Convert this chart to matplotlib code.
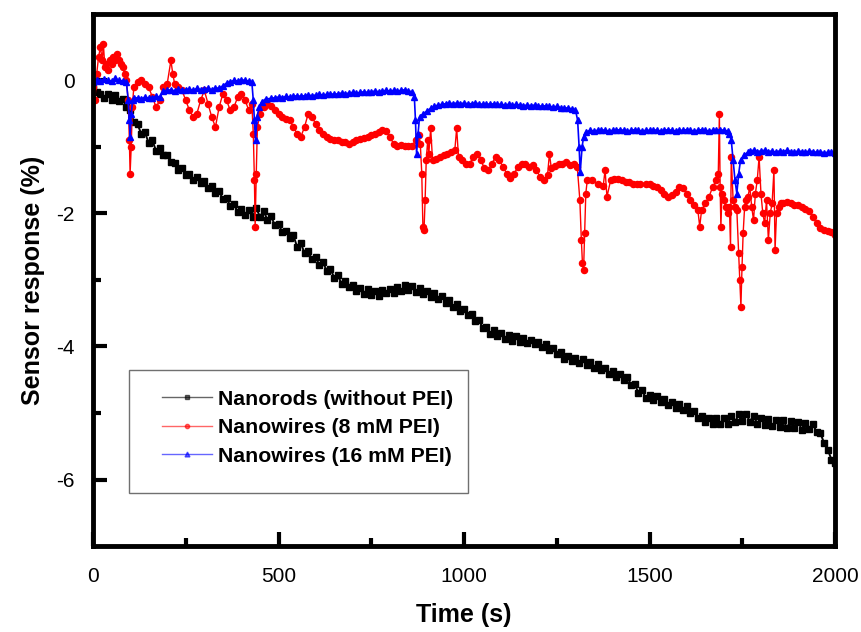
"""Sensor response vs time for nanorods / nanowires (PEI)."""

import matplotlib
matplotlib.use("Agg")
import matplotlib.pyplot as plt
from matplotlib.patches import Rectangle

plt.rcParams["font.family"] = ["Liberation Sans", "DejaVu Sans"]
plt.rcParams["axes.unicode_minus"] = False

# --- data --------------------------------------------------------------
# nanorods (without PEI), one value every 10 s from 0 to 2000 s
rod_time = list(range(0, 2001, 10))
rod_resp = [
    -0.08, -0.18, -0.20, -0.26, -0.20, -0.29, -0.22, -0.31, -0.28, -0.40,
    -0.45, -0.62, -0.66, -0.80, -0.78, -0.94, -0.90, -1.06, -1.02, -1.12,
    -1.12, -1.22, -1.24, -1.35, -1.31, -1.42, -1.40, -1.50, -1.45, -1.54,
    -1.51, -1.61, -1.58, -1.69, -1.66, -1.79, -1.77, -1.89, -1.86, -1.98,
    -1.93, -2.03, -1.95, -2.06, -1.92, -2.05, -1.96, -2.10, -2.04, -2.18,
    -2.16, -2.28, -2.26, -2.37, -2.33, -2.50, -2.44, -2.60, -2.57, -2.69,
    -2.65, -2.78, -2.73, -2.87, -2.83, -2.97, -2.93, -3.06, -3.01, -3.10,
    -3.07, -3.16, -3.12, -3.21, -3.13, -3.23, -3.16, -3.24, -3.15, -3.20,
    -3.13, -3.20, -3.11, -3.17, -3.08, -3.15, -3.09, -3.18, -3.12, -3.21,
    -3.16, -3.25, -3.19, -3.28, -3.24, -3.34, -3.30, -3.40, -3.36, -3.47,
    -3.43, -3.53, -3.51, -3.62, -3.60, -3.72, -3.70, -3.81, -3.75, -3.84,
    -3.80, -3.88, -3.82, -3.91, -3.84, -3.93, -3.87, -3.95, -3.90, -3.97,
    -3.93, -4.01, -3.97, -4.06, -4.03, -4.12, -4.09, -4.19, -4.14, -4.22,
    -4.17, -4.25, -4.19, -4.28, -4.23, -4.32, -4.27, -4.36, -4.33, -4.41,
    -4.37, -4.46, -4.41, -4.50, -4.46, -4.58, -4.57, -4.70, -4.66, -4.78,
    -4.73, -4.81, -4.75, -4.84, -4.79, -4.88, -4.83, -4.92, -4.87, -4.95,
    -4.90, -5.00, -4.97, -5.08, -5.04, -5.14, -5.08, -5.16, -5.07, -5.17,
    -5.08, -5.16, -5.05, -5.14, -5.02, -5.12, -5.01, -5.13, -5.04, -5.16,
    -5.07, -5.18, -5.09, -5.20, -5.10, -5.21, -5.11, -5.22, -5.12, -5.23,
    -5.13, -5.25, -5.15, -5.24, -5.16, -5.29, -5.30, -5.45, -5.55, -5.70,
    -5.75,
]

# nanowires (8 mM PEI)
pei8_time = [
    0, 5, 10, 15, 20, 25, 28, 32, 36, 40,
    45, 50, 55, 60, 65, 70, 75, 80, 85, 90,
    95, 98, 100, 103, 106, 110, 120, 130, 140, 150,
    160, 170, 180, 190, 200, 210, 215, 220, 230, 240,
    250, 260, 270, 280, 290, 300, 310, 320, 330, 340,
    350, 360, 370, 380, 390, 400, 410, 420, 428, 432,
    435, 437, 440, 443, 450, 460, 470, 480, 490, 500,
    510, 520, 530, 540, 550, 560, 570, 580, 590, 600,
    610, 620, 630, 640, 650, 660, 670, 680, 690, 700,
    710, 720, 730, 740, 750, 760, 770, 780, 790, 800,
    810, 820, 830, 840, 850, 860, 870, 878, 882, 886,
    889, 892, 895, 898, 902, 905, 910, 915, 925, 935,
    945, 955, 965, 975, 980, 985, 995, 1005, 1015, 1025,
    1035, 1045, 1055, 1065, 1075, 1085, 1095, 1105, 1115, 1125,
    1135, 1145, 1155, 1165, 1175, 1185, 1195, 1205, 1215, 1225,
    1230, 1235, 1245, 1255, 1265, 1275, 1285, 1295, 1305, 1312,
    1316, 1319, 1322, 1325, 1328, 1332, 1345, 1360, 1375, 1380,
    1385, 1395, 1405, 1415, 1425, 1435, 1445, 1455, 1465, 1475,
    1490, 1500, 1510, 1520, 1530, 1540, 1550, 1560, 1570, 1580,
    1590, 1600, 1610, 1620, 1630, 1635, 1640, 1650, 1660, 1670,
    1680, 1685, 1688, 1690, 1692, 1695, 1700, 1705, 1710, 1715,
    1718, 1720, 1725, 1730, 1735, 1740, 1743, 1746, 1749, 1752,
    1756, 1760, 1765, 1770, 1775, 1780, 1785, 1790, 1795, 1800,
    1805, 1810, 1815, 1820, 1825, 1830, 1835, 1838, 1842, 1848,
    1855, 1860, 1870, 1880, 1890, 1900, 1910, 1920, 1930, 1940,
    1950, 1960, 1970, 1980, 1990, 2000,
]
pei8_resp = [
    -0.10, -0.30, 0.10, 0.35, 0.50, 0.30, 0.55, 0.20, 0.25, 0.15,
    0.30, 0.25, 0.35, 0.30, 0.40, 0.30, 0.25, 0.20, 0.10, 0.00,
    -0.30, -0.90, -1.40, -1.00, -0.40, -0.10, -0.02, 0.00, -0.05, -0.10,
    -0.25, -0.40, -0.30, -0.10, -0.05, 0.30, 0.10, -0.05, -0.10, -0.15,
    -0.30, -0.45, -0.55, -0.50, -0.30, -0.15, -0.35, -0.55, -0.70, -0.40,
    -0.20, -0.30, -0.45, -0.40, -0.25, -0.20, -0.30, -0.45, -0.35, -0.80,
    -1.50, -2.20, -1.40, -0.70, -0.50, -0.40, -0.35, -0.38, -0.45, -0.50,
    -0.55, -0.58, -0.60, -0.70, -0.80, -0.85, -0.70, -0.50, -0.55, -0.65,
    -0.75, -0.80, -0.85, -0.88, -0.90, -0.90, -0.93, -0.92, -0.95, -0.92,
    -0.90, -0.88, -0.87, -0.85, -0.82, -0.80, -0.78, -0.75, -0.76, -0.85,
    -0.95, -0.98, -0.97, -0.98, -0.99, -0.98, -0.90, -0.82, -0.95, -1.40,
    -2.20, -2.25, -1.80, -1.20, -0.90, -1.10, -0.72, -1.20, -1.18, -1.15,
    -1.12, -1.10, -1.07, -1.05, -0.72, -1.15, -1.20, -1.25, -1.25, -1.15,
    -1.10, -1.20, -1.32, -1.35, -1.25, -1.15, -1.20, -1.30, -1.40, -1.46,
    -1.40, -1.30, -1.25, -1.25, -1.30, -1.27, -1.35, -1.45, -1.50, -1.42,
    -1.10, -1.32, -1.28, -1.25, -1.25, -1.22, -1.27, -1.25, -1.30, -1.80,
    -2.40, -2.75, -2.85, -2.30, -1.70, -1.50, -1.50, -1.55, -1.58, -1.35,
    -1.75, -1.50, -1.48, -1.48, -1.50, -1.53, -1.52, -1.55, -1.55, -1.55,
    -1.55, -1.55, -1.58, -1.60, -1.65, -1.70, -1.75, -1.72, -1.68, -1.60,
    -1.62, -1.70, -1.80, -1.88, -1.95, -2.20, -1.95, -1.85, -1.75, -1.60,
    -1.50, -1.40, -0.50, -1.60, -2.20, -1.70, -1.80, -1.90, -2.00, -1.90,
    -2.50, -1.15, -1.80, -1.90, -1.95, -2.60, -3.00, -3.40, -2.80, -2.30,
    -1.90, -1.80, -1.75, -1.60, -1.90, -2.10, -1.70, -1.50, -1.15, -1.70,
    -2.00, -2.15, -1.80, -2.40, -2.00, -1.85, -1.35, -2.55, -2.00, -1.90,
    -1.85, -1.84, -1.83, -1.85, -1.87, -1.88, -1.90, -1.93, -1.97, -2.05,
    -2.15, -2.22, -2.25, -2.26, -2.28, -2.32,
]

# nanowires (16 mM PEI): flat plateaus sampled every 10 s, steps denser
pei16_time = (
    list(range(0, 91, 10)) + [95, 98, 100, 103, 107]
    + list(range(110, 181, 10)) + list(range(190, 341, 10)) + [350, 360]
    + [370, 380, 390, 400, 410, 420, 428]
    + [432, 435, 438, 442, 448, 455, 465]
    + list(range(480, 861, 10))
    + [866, 869, 872, 876, 880, 890, 900, 910, 920, 930]
    + list(range(940, 1301, 10))
    + [1306, 1310, 1313, 1318, 1322, 1328]
    + list(range(1340, 1711, 10))
    + [1715, 1720, 1725, 1730, 1735, 1740, 1745, 1755, 1765]
    + list(range(1770, 2001, 10))
)
pei16_resp = [
    # 0 - 107 s
    -0.02, 0.00, -0.01, 0.02, 0.00, -0.01, 0.03, 0.00, -0.01, -0.03,
    -0.30, -0.60, -0.85, -0.50, -0.30,
    # 110 - 180 s
    -0.27, -0.26, -0.28, -0.25, -0.27, -0.26, -0.24, -0.25,
    # 190 - 340 s
    -0.16, -0.15, -0.14, -0.16, -0.13, -0.15, -0.14, -0.13,
    -0.15, -0.12, -0.14, -0.13, -0.12, -0.14, -0.11, -0.12,
    -0.08, -0.04,
    -0.02, 0.00, -0.01, 0.01, 0.00, -0.01, -0.02,
    # step at ~435 s
    -0.30, -0.60, -0.90, -0.55, -0.40, -0.32, -0.28,
    # 480 - 860 s
    -0.27, -0.26, -0.25, -0.26, -0.24, -0.25, -0.24, -0.23, -0.24, -0.23,
    -0.22, -0.23, -0.22, -0.21, -0.22, -0.21, -0.20, -0.21, -0.20, -0.19,
    -0.20, -0.19, -0.18, -0.19, -0.18, -0.17, -0.18, -0.17, -0.16, -0.17,
    -0.16, -0.15, -0.16, -0.15, -0.16, -0.15, -0.14, -0.16, -0.17,
    # step at ~870 s
    -0.25, -0.60, -1.10, -0.80, -0.55, -0.50, -0.46, -0.42, -0.39, -0.37,
    # 940 - 1300 s
    -0.36, -0.35, -0.34, -0.35, -0.34, -0.35, -0.34, -0.35, -0.35, -0.34,
    -0.35, -0.36, -0.35, -0.36, -0.35, -0.36, -0.36, -0.37, -0.36, -0.37,
    -0.36, -0.37, -0.38, -0.37, -0.38, -0.37, -0.38, -0.39, -0.38, -0.39,
    -0.40, -0.39, -0.41, -0.42, -0.41, -0.43, -0.44,
    # step at ~1310 s
    -0.60, -1.00, -1.38, -1.00, -0.85, -0.78,
    # 1340 - 1710 s
    -0.75, -0.76, -0.75, -0.74, -0.75, -0.76, -0.75, -0.75, -0.74, -0.75,
    -0.76, -0.75, -0.74, -0.75, -0.76, -0.75, -0.75, -0.74, -0.75, -0.76,
    -0.75, -0.74, -0.75, -0.76, -0.75, -0.75, -0.74, -0.75, -0.76, -0.75,
    -0.74, -0.75, -0.76, -0.75, -0.75, -0.74, -0.75, -0.76,
    # step at ~1730 s
    -0.80, -0.90, -1.20, -1.50, -1.70, -1.40, -1.20, -1.12, -1.08,
    # 1770 - 2000 s
    -1.06, -1.05, -1.07, -1.06, -1.05, -1.07, -1.06, -1.08, -1.06, -1.07,
    -1.05, -1.07, -1.08, -1.06, -1.07, -1.08, -1.06, -1.07, -1.08, -1.07,
    -1.09, -1.08, -1.07, -1.09,
]

x_ticks = [0, 500, 1000, 1500, 2000]
y_ticks = [0, -2, -4, -6]
labels = ["Nanorods (without PEI)", "Nanowires (8 mM PEI)", "Nanowires (16 mM PEI)"]

# --- figure --------------------------------------------------------------
fig = plt.figure(figsize=(8.61, 6.32), dpi=100)
ax = fig.add_axes([0.108, 0.136, 0.862, 0.842])

ax.plot(rod_time, rod_resp, color="black", lw=1.4, marker="s", ms=4.6,
        label=labels[0])
ax.plot(pei8_time, pei8_resp, color="red", lw=1.0, marker="o", ms=4.4,
        label=labels[1])
ax.plot(pei16_time, pei16_resp, color="blue", lw=1.2, marker="^", ms=5.0,
        label=labels[2])

ax.set_xlim(0, 2000)
ax.set_ylim(-7, 1)
ax.set_xticks(x_ticks)
ax.set_yticks(y_ticks)
ax.set_xticks([250, 750, 1250, 1750], minor=True)
ax.set_yticks([-1, -3, -5], minor=True)
ax.tick_params(which="both", direction="in", top=False, right=False,
               labelsize=15, width=3)
ax.tick_params(axis="x", which="both", pad=15)
ax.tick_params(axis="y", which="both", pad=13)
ax.tick_params(which="major", length=10)
ax.tick_params(which="minor", length=6)
for spine in ax.spines.values():
    spine.set_linewidth(3.5)

ax.set_xlabel("Time (s)", fontsize=18, fontweight="bold", labelpad=12)
ax.set_ylabel("Sensor response (%)", fontsize=18, fontweight="bold", labelpad=8)

# legend box drawn separately: the original frame is padded unevenly
ax.add_patch(Rectangle((0.0485, 0.0996), 0.457, 0.231, transform=ax.transAxes,
                       fill=False, edgecolor="#707070", lw=1.0, zorder=5))
handles, _ = ax.get_legend_handles_labels()
leg = ax.legend(handles, labels, loc="upper left", bbox_to_anchor=(0.093, 0.294),
                frameon=False, prop={"weight": "bold", "size": 15.3},
                handlelength=2.35, handletextpad=0.28, labelspacing=0.45,
                borderpad=0.0, borderaxespad=0.0, markerscale=0.7)
for line in leg.get_lines():
    line.set_alpha(0.6)
    line.set_linewidth(1.0)

fig.savefig("out.png", dpi=100)
